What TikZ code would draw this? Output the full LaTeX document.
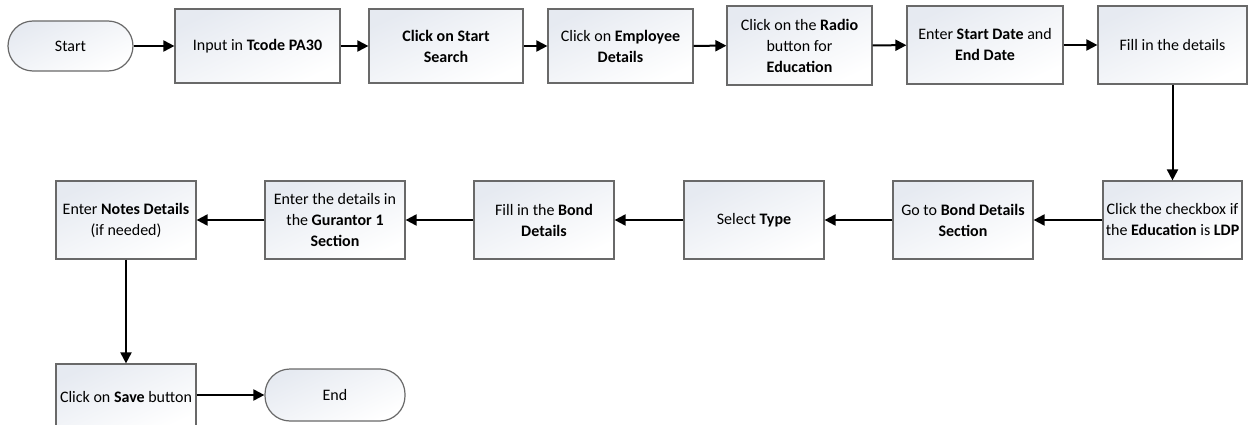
\documentclass[tikz,border=0pt]{standalone}
\usepackage{fontspec}
\setmainfont{Carlito}
\usetikzlibrary{arrows.meta}
\definecolor{boxtop}{RGB}{230,234,241}
\definecolor{boxline}{RGB}{105,105,105}
\tikzset{
  stepbox/.style={draw=boxline, line width=1.2pt, top color=boxtop, bottom color=white,
    shading angle=25, align=center, inner sep=2pt,
    font=\fontsize{16}{21}\selectfont},
  term/.style={stepbox, rounded corners=25pt},
  flow/.style={line width=2pt, -{Triangle[length=11pt,width=11pt]}}
}
\begin{document}
\begin{tikzpicture}[x=1pt,y=-1pt]
\useasboundingbox (0,0) rectangle (1253,425);
\clip (0,0) rectangle (1253,425);
% top row
\node[term, minimum width=125pt, minimum height=50pt] (start) at (70.5,46) {Start};
\node[stepbox, minimum width=165pt, minimum height=74pt] (b1) at (257.5,46) {Input in \textbf{Tcode PA30}};
\node[stepbox, minimum width=154pt, minimum height=74pt] (b2) at (446,46) {\textbf{Click on Start}\\\textbf{Search}};
\node[stepbox, minimum width=145pt, minimum height=74pt] (b3) at (620.5,46) {Click on \textbf{Employee}\\\textbf{Details}};
\node[stepbox, minimum width=145pt, minimum height=79pt] (b4) at (799.5,45.5) {Click on the \textbf{Radio}\\button for\\\textbf{Education}};
\node[stepbox, minimum width=156pt, minimum height=78pt] (b5) at (985,45) {Enter \textbf{Start Date} and\\\textbf{End Date}};
\node[stepbox, minimum width=149pt, minimum height=78pt] (b6) at (1172.5,45) {Fill in the details};
% second row
\node[stepbox, minimum width=139pt, minimum height=78pt] (b7) at (1172.5,220) {Click the checkbox if\\the \textbf{Education} is \textbf{LDP}};
\node[stepbox, minimum width=140pt, minimum height=78pt] (b8) at (963,220) {Go to \textbf{Bond Details}\\\textbf{Section}};
\node[stepbox, minimum width=140pt, minimum height=78pt] (b9) at (754,220) {Select \textbf{Type}};
\node[stepbox, minimum width=140pt, minimum height=78pt] (b10) at (544,220) {Fill in the \textbf{Bond}\\\textbf{Details}};
\node[stepbox, minimum width=140pt, minimum height=78pt] (b11) at (335,220) {Enter the details in\\the \textbf{Gurantor 1}\\\textbf{Section}};
\node[stepbox, minimum width=140pt, minimum height=78pt] (b12) at (126,220) {Enter \textbf{Notes Details}\\(if needed)};
% third row
\node[stepbox, minimum width=140pt, minimum height=66pt] (b13) at (126,397) {Click on \textbf{Save} button};
\node[term, minimum width=140pt, minimum height=52pt] (end) at (335,395) {End};
% connectors
\draw[flow] (start) -- (b1);
\draw[flow] (b1) -- (b2);
\draw[flow] (b2) -- (b3);
\draw[flow] (b3) -- (b4);
\draw[flow] (b4) -- (b5);
\draw[flow] (b5) -- (b6);
\draw[flow] (b6) -- (b7);
\draw[flow] (b7) -- (b8);
\draw[flow] (b8) -- (b9);
\draw[flow] (b9) -- (b10);
\draw[flow] (b10) -- (b11);
\draw[flow] (b11) -- (b12);
\draw[flow] (b12) -- (b13);
\draw[flow] (b13.east |- end.west) -- (end.west);
\end{tikzpicture}
\end{document}
